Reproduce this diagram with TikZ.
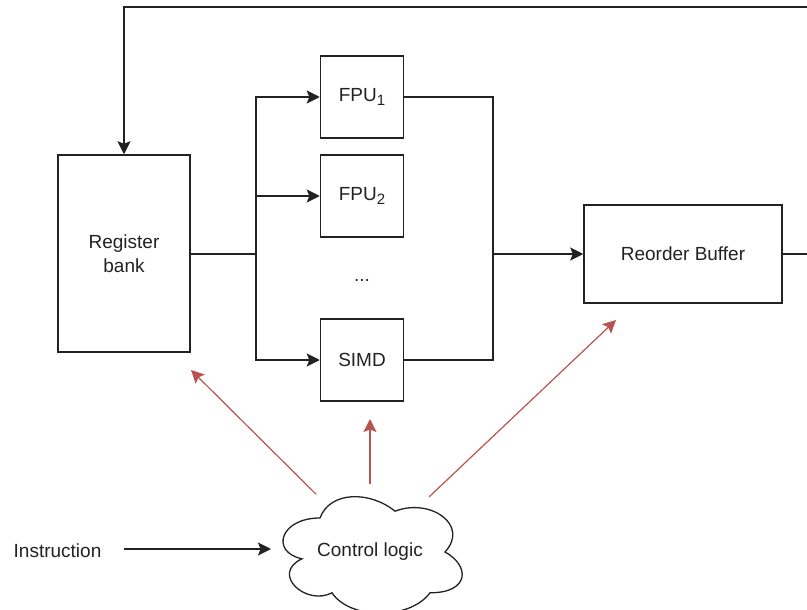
\documentclass[tikz,border=0pt]{standalone}
\usepackage{fontspec}
\setmainfont{Liberation Sans}
\usetikzlibrary{arrows.meta,shapes.geometric}

\definecolor{ink}{HTML}{222222}
\definecolor{ctlred}{HTML}{B85450}

\newcommand{\sub}[1]{\raisebox{-0.22em}{\fontsize{15}{15}\selectfont #1}}

\tikzset{
  base/.style={font=\fontsize{19}{24}\selectfont, text=ink},
  unit/.style={base, draw=ink, line width=1.5pt, rectangle, inner sep=0pt, align=center},
  wire/.style={draw=ink, line width=1.5pt},
  arr/.style={wire, -{Stealth[length=13pt, width=13pt, inset=2.5pt]}},
  ctlarr/.style={draw=ctlred, line width=1.2pt, -{Stealth[length=13pt, width=13pt, inset=2.5pt]}},
  cloudline/.style={draw=ink, line width=1.3pt, fill=white},
}

\begin{document}
\begin{tikzpicture}[x=1pt, y=-1pt]
\useasboundingbox (0,0) rectangle (807,610);

% functional blocks
\node[unit, minimum width=132pt, minimum height=197pt] (reg) at (124,253.5) {Register\\bank};
\node[unit, minimum width=83pt, minimum height=82pt] (fpu1) at (362,97) {FPU\sub{1}};
\node[unit, minimum width=83pt, minimum height=82pt] (fpu2) at (362,196) {FPU\sub{2}};
\node[base] (dots) at (362,280) {...};
\node[unit, minimum width=83pt, minimum height=82pt] (simd) at (362,360) {SIMD};
\node[unit, minimum width=198pt, minimum height=98pt] (rob) at (683,254) {Reorder Buffer};

% control logic cloud
\draw[cloudline] (320,518)
  .. controls (280,518) and (270,552) .. (302,558.8)
  .. controls (270,573.76) and (306,606.4) .. (332,592.8)
  .. controls (350,620) and (410,620) .. (430,592.8)
  .. controls (470,592.8) and (470,565.6) .. (445,552)
  .. controls (470,524.8) and (430,497.6) .. (395,511.2)
  .. controls (370,490.8) and (330,490.8) .. (320,518) -- cycle;
\node[base, ellipse, minimum width=200pt, minimum height=136pt, inner sep=0pt] (ctl) at (370,552) {Control logic};

\node[base] (instr) at (57.5,551) {Instruction};

% junction points and free ends
\coordinate (split) at (256,254);
\coordinate (merge) at (493,254);
\coordinate (robout) at (807,254);
\coordinate (fbin) at (807,7);
\coordinate (instrout) at (124,549);
\coordinate (ctlin) at (271,549);
\coordinate (tgtreg) at (191,370);
\coordinate (tgtfu) at (370,419);
\coordinate (tgtrob) at (616,320);

% data path
\draw[wire] (reg.east |- split) -- (split);
\draw[arr] (split) |- (fpu1.west);
\draw[arr] (split) |- (fpu2.west);
\draw[arr] (split) |- (simd.west);
\draw[wire] (fpu1.east) -| (merge);
\draw[wire] (simd.east) -| (merge);
\draw[arr] (merge) -- (rob.west);
\draw[wire] (rob.east) -- (robout);
\draw[arr] (fbin) -| (reg.north);

% instruction input
\draw[arr] (instrout) -- (ctlin);

% control signals
\draw[ctlarr] (ctl.133.4) -- (tgtreg);
\draw[ctlarr] (ctl.north) -- (tgtfu);
\draw[ctlarr] (ctl.43.7) -- (tgtrob);
\end{tikzpicture}
\end{document}
